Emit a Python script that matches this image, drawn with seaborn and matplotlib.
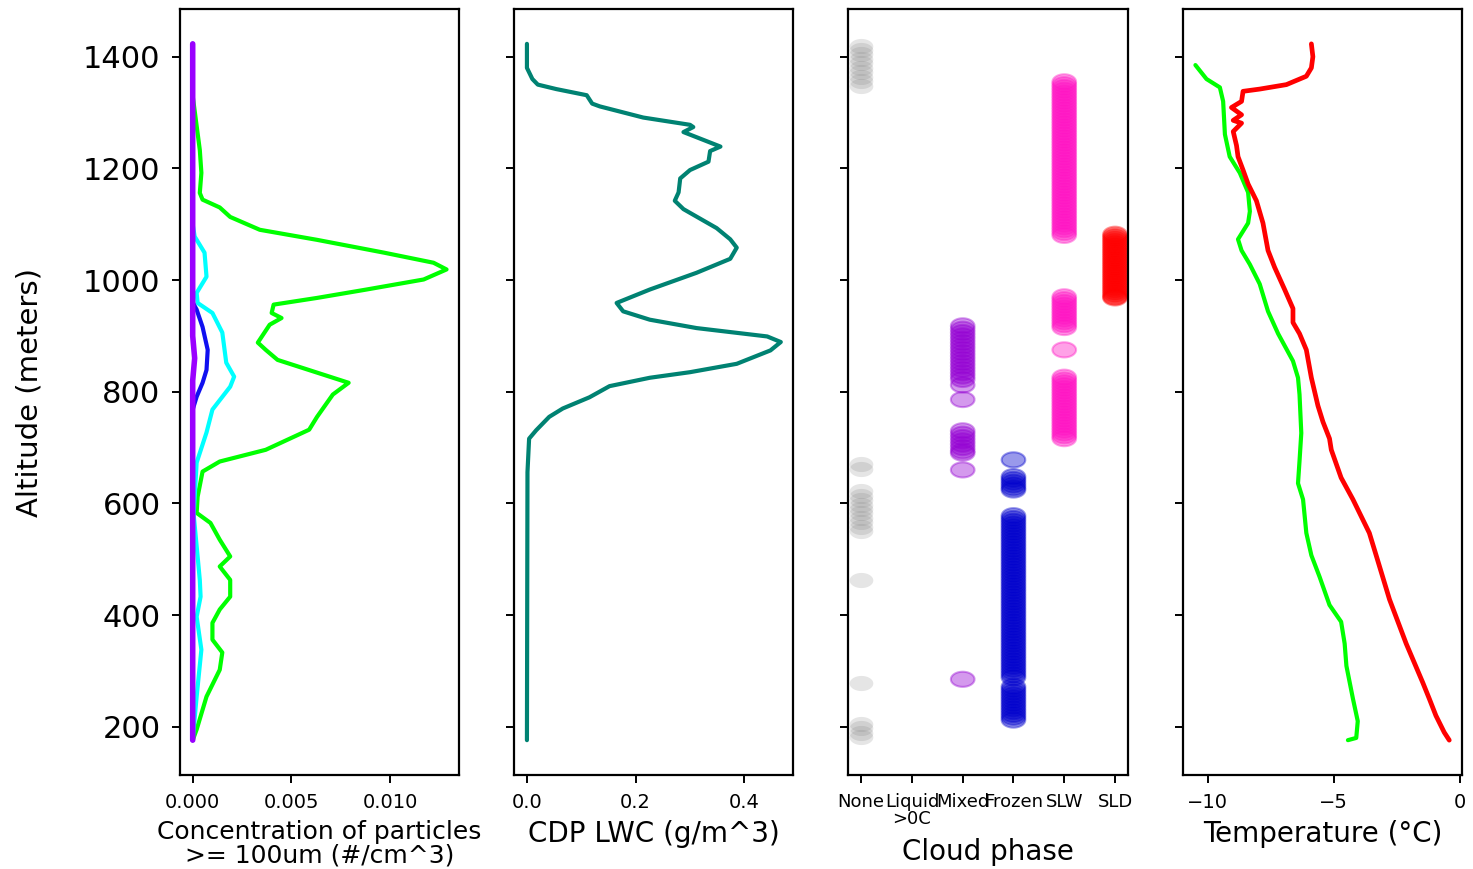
import numpy as np
import pandas as pd
import matplotlib
matplotlib.use('Agg')
import matplotlib.pyplot as plt
from matplotlib.path import Path
import seaborn as sns

# --- panel 1: concentration of particles >= 100um (#/cm^3)
green_alt = [1423, 1330, 1233, 1192, 1156, 1144, 1130, 1113, 1090, 1072, 1049, 1031, 1019, 1001, 983,
             968, 956, 941, 932, 920, 888, 875, 857, 816, 795, 755, 732, 696, 675, 657,
             612, 583, 565, 535, 505, 487, 463, 433, 410, 386, 356, 333, 302, 254, 195, 176]
green_conc = [0, 0, 0.00036, 0.00044, 0.00036, 0.0005, 0.00137, 0.0019, 0.0034, 0.0063, 0.0097, 0.0122, 0.01286, 0.0117, 0.0088,
              0.0063, 0.0041, 0.0040, 0.0045, 0.0039, 0.0033, 0.0037, 0.0043, 0.0079, 0.0071, 0.0063, 0.0059, 0.0037, 0.00137, 0.0005,
              0.00025, 0.0002, 0.0009, 0.00137, 0.0019, 0.00137, 0.0019, 0.0019, 0.00137, 0.001, 0.001, 0.0015, 0.00137, 0.0007, 0.0002, 0]
cyan_alt = [1423, 1100, 1078, 1049, 1006, 977, 959, 941, 906, 852, 827, 809, 768, 727, 673,
            580, 463, 433, 397, 338, 254, 176]
cyan_conc = [0, 0, 0.0001, 0.0006, 0.0007, 0.0002, 0.00025, 0.001, 0.0015, 0.0017, 0.0021, 0.0019, 0.001, 0.0007, 0.0002,
             0.00005, 0.00036, 0.0004, 0.0002, 0.00044, 0.0002, 0]
blue_alt = [1423, 960, 947, 916, 875, 839, 816, 791, 768, 176]
blue_conc = [0, 0, 0.0002, 0.0005, 0.00076, 0.0007, 0.0005, 0.0002, 0, 0]
purple_alt = [1423, 900, 860, 820, 176]
purple_conc = [0, 0, 0.0001, 0, 0]

# --- panel 2: CDP LWC
lwc_alt = [1423, 1380, 1360, 1350, 1342, 1331, 1316, 1311, 1291, 1278, 1274, 1265, 1239, 1231, 1212,
           1197, 1182, 1157, 1142, 1127, 1093, 1073, 1058, 1038, 1013, 983, 959, 944, 929, 914,
           899, 889, 874, 850, 835, 825, 810, 790, 770, 755, 731, 716, 656, 176]
lwc = [0, 0, 0.01, 0.02, 0.054, 0.11, 0.12, 0.134, 0.214, 0.300, 0.306, 0.288, 0.356, 0.337, 0.334,
       0.30, 0.282, 0.279, 0.272, 0.288, 0.349, 0.374, 0.386, 0.374, 0.312, 0.226, 0.165, 0.177, 0.226, 0.312,
       0.442, 0.467, 0.448, 0.386, 0.30, 0.226, 0.152, 0.115, 0.066, 0.041, 0.017, 0.004, 0.001, 0]

# --- panel 3: cloud phase (altitudes of each classified sample)
phase_names = ['None', 'Liquid\n>0C', 'Mixed', 'Frozen', 'SLW', 'SLD']
none_alt = [1420, 1412, 1404, 1396, 1388, 1380, 1372, 1364, 1356, 1348, 670, 662,
            622, 614, 606, 598, 590, 582, 574, 566, 558, 550, 463, 279, 205, 197, 189, 182]
mixed_alt = [918, 912, 906, 900, 894, 888, 882, 876, 870, 864, 858, 852, 846, 840, 834, 828, 822, 812, 786,
             730, 724, 718, 712, 706, 700, 694, 690, 660, 285]
frozen_alt = [678, 648, 643, 638, 633, 628, 624,
              578, 573, 568, 563, 558, 553, 548, 543, 538, 533, 528, 523, 518, 513, 508, 503,
              498, 493, 488, 483, 478, 473, 468, 463, 458, 453, 448, 443, 438, 433, 428, 423,
              418, 413, 408, 403, 398, 393, 388, 383, 378, 373, 368, 363, 358, 353, 348, 343,
              338, 333, 328, 323, 318, 313, 308, 303, 298, 293, 288,
              272, 267, 262, 257, 252, 247, 242, 237, 232, 227, 222, 217, 212]
slw_alt = [1355, 1350, 1345, 1340, 1335, 1330, 1325, 1320, 1315, 1310, 1305, 1300, 1295, 1290, 1285,
           1280, 1275, 1270, 1265, 1260, 1255, 1250, 1245, 1240, 1235, 1230, 1225, 1220, 1215, 1210,
           1205, 1200, 1195, 1190, 1185, 1180, 1175, 1170, 1165, 1160, 1155, 1150, 1145, 1140, 1135,
           1130, 1125, 1120, 1115, 1110, 1105, 1100, 1095, 1090, 1085, 1080,
           970, 965, 960, 955, 950, 945, 940, 935, 930, 925, 920, 915, 875,
           826, 821, 816, 811, 806, 801, 796, 791, 786, 781, 776, 771, 766, 761, 756, 751,
           746, 741, 736, 731, 726, 721, 716]
sld_alt = [1082, 1078, 1074, 1070, 1066, 1062, 1058, 1054, 1050, 1046, 1042, 1038, 1034, 1030, 1026,
           1022, 1018, 1014, 1010, 1006, 1002, 998, 994, 990, 986, 982, 978, 974, 970, 968]
phase_colors = {'Mixed': '#9400d3', 'Frozen': '#0000cd', 'SLW': '#ff14c4', 'SLD': '#ff0000'}

# --- panel 4: temperature
red_alt = [1423, 1400, 1380, 1365, 1350, 1342, 1338, 1320, 1309, 1296, 1286, 1281, 1266, 1241, 1221,
           1197, 1172, 1142, 1102, 1053, 1023, 983, 949, 924, 904, 875, 825, 775, 746, 716,
           696, 646, 607, 547, 507, 428, 349, 279, 250, 220, 190, 176]
red_temp = [-5.88, -5.82, -5.88, -6.08, -6.87, -7.93, -8.59, -8.65, -9.05, -8.65, -8.98, -8.65, -8.98, -8.85, -8.79,
            -8.59, -8.39, -8.06, -7.80, -7.60, -7.34, -6.94, -6.61, -6.61, -6.35, -6.08, -5.88, -5.62, -5.42, -5.16,
            -5.09, -4.70, -4.23, -3.58, -3.31, -2.78, -2.12, -1.46, -1.20, -0.94, -0.61, -0.41]
greent_alt = [1385, 1360, 1345, 1320, 1261, 1221, 1192, 1157, 1123, 1102, 1073, 1053, 1028, 993, 944,
              904, 855, 825, 795, 726, 676, 636, 607, 547, 507, 468, 418, 388, 349, 309,
              250, 210, 180, 176]
green_temp = [-10.48, -10.04, -9.51, -9.38, -9.31, -9.12, -8.72, -8.39, -8.32, -8.39, -8.79, -8.65, -8.32, -7.93, -7.60,
              -7.20, -6.61, -6.41, -6.35, -6.28, -6.35, -6.41, -6.21, -6.08, -5.88, -5.55, -5.16, -4.70, -4.56, -4.49,
              -4.23, -4.04, -4.10, -4.43]

sns.set_style('ticks', {'axes.edgecolor': 'black', 'xtick.color': 'black', 'ytick.color': 'black',
                        'text.color': 'black', 'axes.labelcolor': 'black'})
plt.rcParams['font.family'] = ['DejaVu Sans']
plt.rcParams['axes.linewidth'] = 1.6

fig, axes = plt.subplots(1, 4, figsize=(14.73, 8.69), dpi=100, sharey=True)
fig.subplots_adjust(left=0.1222, right=0.9925, bottom=0.1082, top=0.9896, wspace=0.197)

lw = 3
ax = axes[0]
sns.lineplot(x=green_conc, y=green_alt, sort=False, estimator=None, color='#00ff00', lw=lw, ax=ax)
sns.lineplot(x=cyan_conc, y=cyan_alt, sort=False, estimator=None, color='#00ffff', lw=lw, ax=ax)
sns.lineplot(x=blue_conc, y=blue_alt, sort=False, estimator=None, color='#1010f0', lw=lw, ax=ax)
sns.lineplot(x=purple_conc, y=purple_alt, sort=False, estimator=None, color='#9a00ff', lw=lw + 1, ax=ax)
ax.set_xticks([0, 0.005, 0.010])
ax.set_xticklabels(['0.000', '0.005', '0.010'])
ax.set_xlabel('Concentration of particles\n>= 100um (#/cm^3)', fontsize=18, linespacing=0.95, labelpad=6)
ax.set_ylabel('Altitude (meters)', fontsize=21)
ax.yaxis.set_label_coords(-0.49, 0.5)

ax = axes[1]
sns.lineplot(x=lwc, y=lwc_alt, sort=False, estimator=None, color='#008272', lw=lw, ax=ax)
ax.set_xticks([0, 0.2, 0.4])
ax.set_xlabel('CDP LWC (g/m^3)', fontsize=20, labelpad=6)

# ellipse marker (samples look flattened in the original)
theta = np.linspace(0, 2 * np.pi, 64)
ellipse = Path(np.column_stack([np.cos(theta), 0.64 * np.sin(theta)]))

ax = axes[2]
none_df = pd.DataFrame({'x': 0, 'alt': none_alt})
sns.scatterplot(data=none_df, x='x', y='alt', color='gray', alpha=0.2, s=290, marker=ellipse,
                linewidth=0, ax=ax)
frames = []
for name, alts in [('Mixed', mixed_alt), ('Frozen', frozen_alt), ('SLW', slw_alt), ('SLD', sld_alt)]:
    frames.append(pd.DataFrame({'phase': name, 'x': phase_names.index(name), 'alt': alts}))
phase_df = pd.concat(frames, ignore_index=True)
sns.scatterplot(data=phase_df, x='x', y='alt', hue='phase', palette=phase_colors, alpha=0.4, s=290,
                marker=ellipse, edgecolor='face', linewidth=1.5, legend=False, ax=ax)
ax.set_xticks(range(len(phase_names)))
ax.set_xticklabels(phase_names, linespacing=0.95)
ax.set_xlabel('Cloud phase', fontsize=20, labelpad=7)

ax = axes[3]
sns.lineplot(x=green_temp, y=greent_alt, sort=False, estimator=None, color='#00ff00', lw=lw, ax=ax)
sns.lineplot(x=red_temp, y=red_alt, sort=False, estimator=None, color='#ff0000', lw=lw + 0.4, ax=ax)
ax.set_xticks([-10, -5, 0])
ax.set_xlabel('Temperature (°C)', fontsize=20, labelpad=6)

for i, ax in enumerate(axes):
    for s in ax.spines.values():
        s.set_visible(True)
    ax.tick_params(axis='x', labelsize=14, length=6, width=1.4, pad=7)
    ax.tick_params(axis='y', labelsize=22, length=6, width=1.4, pad=8)
    if i > 0:
        ax.set_ylabel('')
axes[0].set_yticks([200, 400, 600, 800, 1000, 1200, 1400])
axes[2].tick_params(axis='x', labelsize=13)

fig.savefig('out.png', dpi=100)
